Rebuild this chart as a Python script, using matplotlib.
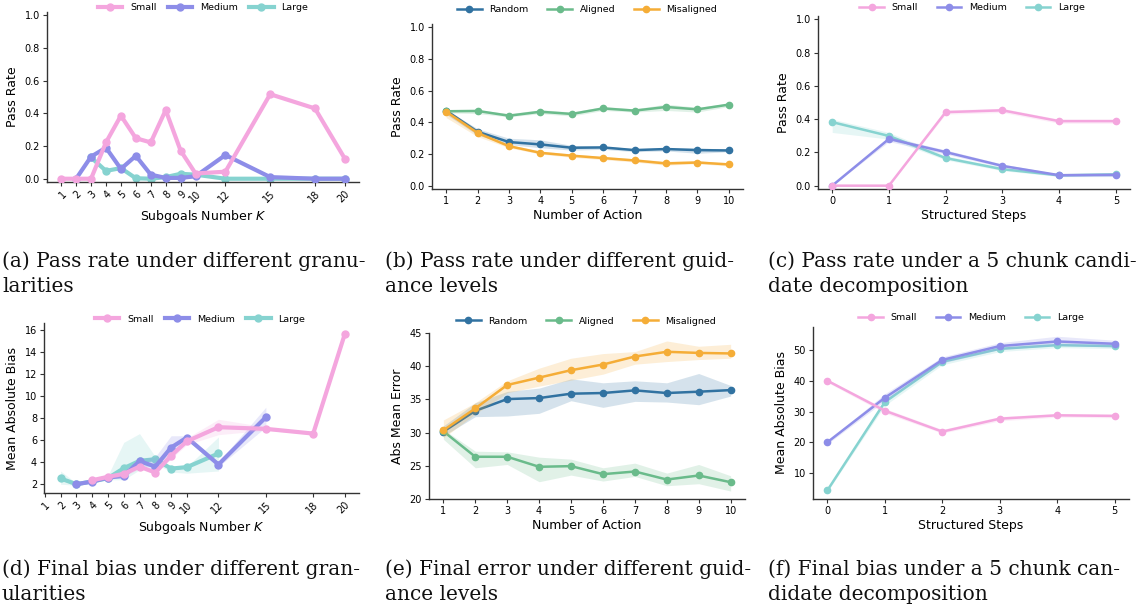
import numpy as np
import matplotlib
matplotlib.use("Agg")
import matplotlib.pyplot as plt

# colours
c_small = "#f4a6de"
c_medium = "#8d8de8"
c_large = "#86d3d0"
c_random = "#3172a1"
c_aligned = "#6abb8b"
c_misaligned = "#f5ad37"

# ---- (a) pass rate vs subgoals number K
k_ticks = [1, 2, 3, 4, 5, 6, 7, 8, 9, 10, 12, 15, 18, 20]
a_small = [0, 0, 0, 0.222, 0.386, 0.248, 0.222, 0.42, 0.172, 0.032, 0.043, 0.517, 0.43, 0.123]
a_medium_k = [2, 3, 4, 5, 6, 7, 8, 9, 10, 12, 15, 18, 20]
a_medium = [0, 0.135, 0.19, 0.06, 0.14, 0.025, 0.005, 0.005, 0.015, 0.145, 0.01, 0.0, 0.0]
a_large_k = [3, 4, 5, 6, 7, 8, 9, 10, 12, 15, 18, 20]
a_large = [0.13, 0.048, 0.065, 0.003, 0.0, 0.01, 0.03, 0.025, 0.0, 0.0, 0.0, 0.0]

# ---- (b) pass rate vs number of action
actions = [1, 2, 3, 4, 5, 6, 7, 8, 9, 10]
b_random = [0.474, 0.341, 0.276, 0.261, 0.24, 0.242, 0.225, 0.232, 0.225, 0.223]
b_random_lo = [0.45, 0.32, 0.26, 0.24, 0.225, 0.23, 0.215, 0.22, 0.205, 0.215]
b_random_hi = [0.48, 0.36, 0.30, 0.29, 0.255, 0.25, 0.235, 0.24, 0.24, 0.23]
b_aligned = [0.47, 0.472, 0.442, 0.467, 0.453, 0.488, 0.474, 0.497, 0.482, 0.512]
b_aligned_lo = [0.46, 0.455, 0.435, 0.455, 0.44, 0.475, 0.465, 0.475, 0.465, 0.50]
b_aligned_hi = [0.48, 0.48, 0.455, 0.48, 0.465, 0.50, 0.485, 0.515, 0.495, 0.52]
b_mis = [0.467, 0.333, 0.25, 0.208, 0.19, 0.175, 0.16, 0.141, 0.147, 0.135]
b_mis_lo = [0.43, 0.31, 0.24, 0.20, 0.18, 0.165, 0.15, 0.13, 0.14, 0.125]
b_mis_hi = [0.48, 0.35, 0.26, 0.22, 0.20, 0.185, 0.17, 0.155, 0.16, 0.14]

# ---- (c) pass rate vs structured steps
steps = [0, 1, 2, 3, 4, 5]
c_small_v = [0, 0, 0.442, 0.453, 0.388, 0.388]
c_small_lo = [0, 0, 0.43, 0.44, 0.375, 0.375]
c_small_hi = [0, 0, 0.455, 0.465, 0.40, 0.40]
c_medium_v = [0, 0.281, 0.202, 0.119, 0.063, 0.065]
c_medium_lo = [0, 0.265, 0.19, 0.11, 0.055, 0.055]
c_medium_hi = [0, 0.295, 0.215, 0.13, 0.07, 0.075]
c_large_v = [0.382, 0.299, 0.166, 0.099, 0.062, 0.068]
c_large_lo = [0.32, 0.28, 0.155, 0.09, 0.055, 0.055]
c_large_hi = [0.40, 0.32, 0.18, 0.11, 0.07, 0.08]

# ---- (d) bias vs subgoals number K
d_small_k = [4, 5, 6, 7, 8, 9, 10, 12, 15, 18, 20]
d_small = [2.36, 2.67, 2.94, 3.6, 3.06, 4.6, 5.9, 7.18, 7.03, 6.6, 15.64]
d_small_lo = [2.2, 2.5, 2.7, 3.4, 2.9, 4.3, 5.6, 6.5, 6.9, 6.5, 15.5]
d_small_hi = [2.5, 2.8, 3.1, 3.8, 3.2, 4.9, 6.2, 7.9, 7.2, 6.7, 15.8]
d_medium_k = [3, 4, 5, 6, 7, 8, 9, 10, 12, 15]
d_medium = [2.0, 2.24, 2.6, 2.76, 4.09, 3.6, 5.33, 6.24, 3.79, 8.09]
d_medium_lo = [1.9, 2.15, 2.5, 2.55, 3.8, 3.3, 4.3, 6.0, 3.6, 7.2]
d_medium_hi = [2.1, 2.35, 2.7, 2.9, 4.3, 4.5, 6.4, 6.4, 4.0, 9.0]
d_large_k = [2, 3, 4, 5, 6, 7, 8, 9, 10, 12]
d_large = [2.52, 2.0, 2.25, 2.55, 3.45, 4.12, 4.27, 3.42, 3.55, 4.79]
d_large_lo = [2.0, 1.9, 2.1, 2.4, 2.4, 3.3, 3.9, 3.1, 3.0, 3.2]
d_large_hi = [3.2, 2.1, 2.4, 2.8, 5.8, 6.6, 4.5, 3.6, 3.6, 6.3]

# ---- (e) error vs number of action
e_random = [30.15, 33.28, 35.05, 35.2, 35.86, 35.96, 36.36, 35.96, 36.16, 36.4]
e_random_lo = [29.5, 32.4, 32.5, 32.9, 34.8, 33.8, 34.7, 34.6, 34.2, 35.5]
e_random_hi = [31.0, 34.5, 36.2, 36.7, 38.1, 37.5, 37.8, 37.5, 38.9, 37.1]
e_aligned = [30.2, 26.36, 26.36, 24.85, 24.95, 23.74, 24.14, 22.93, 23.54, 22.53]
e_aligned_lo = [29.0, 24.7, 25.2, 22.6, 23.6, 22.7, 23.4, 22.0, 22.3, 21.2]
e_aligned_hi = [30.5, 27.2, 27.1, 26.3, 26.0, 24.7, 25.4, 23.9, 25.2, 23.5]
e_mis = [30.35, 33.64, 37.17, 38.28, 39.4, 40.25, 41.46, 42.17, 42.0, 41.92]
e_mis_lo = [29.2, 32.8, 36.0, 37.0, 37.9, 38.8, 40.3, 40.7, 41.0, 41.2]
e_mis_hi = [31.9, 34.5, 37.8, 39.7, 41.2, 41.9, 42.2, 43.8, 43.0, 43.3]

# ---- (f) bias vs structured steps
f_small = [40.05, 30.3, 23.5, 27.7, 28.8, 28.6]
f_small_lo = [39.5, 29.5, 23.0, 27.0, 28.2, 28.0]
f_small_hi = [40.5, 31.0, 24.2, 28.4, 29.4, 29.2]
f_medium = [20.05, 34.5, 46.8, 51.3, 52.8, 52.05]
f_medium_lo = [19.5, 33.5, 45.8, 50.2, 51.5, 51.0]
f_medium_hi = [20.5, 35.8, 47.8, 52.4, 54.5, 53.2]
f_large = [4.4, 33.1, 46.2, 50.4, 51.6, 51.3]
f_large_lo = [4.0, 32.0, 45.2, 49.5, 50.8, 50.5]
f_large_hi = [4.8, 34.2, 47.2, 51.2, 52.5, 52.2]

captions = ["(a) Pass rate under different granu-\nlarities",
            "(b) Pass rate under different guid-\nance levels",
            "(c) Pass rate under a 5 chunk candi-\ndate decomposition",
            "(d) Final bias under different gran-\nularities",
            "(e) Final error under different guid-\nance levels",
            "(f) Final bias under a 5 chunk can-\ndidate decomposition"]

W, H = 1145, 611
fig = plt.figure(figsize=(W / 100, H / 100), dpi=100)


def add_ax(l, t, r, b):
    # pixel box -> figure fraction
    ax = fig.add_axes([l / W, 1 - b / H, (r - l) / W, (b - t) / H])
    for s in ["top", "right"]:
        ax.spines[s].set_visible(False)
    for s in ["left", "bottom"]:
        ax.spines[s].set_color("#333333")
        ax.spines[s].set_linewidth(1.0)
    ax.tick_params(labelsize=7, length=3, width=0.8, color="#333333", pad=2)
    return ax


def series(ax, x, y, color, label, lw, ms, lo=None, hi=None, z=2):
    if lo is not None:
        ax.fill_between(x, lo, hi, color=color, alpha=0.2, linewidth=0, zorder=z)
    line, = ax.plot(x, y, color=color, lw=lw, marker="o", ms=ms, label=label, zorder=z)
    return line


def legend(ax, handles, cx, cy, colsp=2.0):
    ax.legend(handles=handles, loc="center", bbox_to_anchor=(cx / W, 1 - cy / H),
              bbox_transform=fig.transFigure, ncol=3, frameon=False, fontsize=6.8,
              handlelength=2.6, handletextpad=0.8, columnspacing=colsp, borderpad=0)


# (a)
ax = add_ax(47, 12, 359, 182)
hl = series(ax, a_large_k, a_large, c_large, "Large", 3.0, 5, z=2)
hm = series(ax, a_medium_k, a_medium, c_medium, "Medium", 3.0, 5, z=3)
hs = series(ax, k_ticks, a_small, c_small, "Small", 3.0, 5, z=4)
ax.set_xlim(0.05, 20.95)
ax.set_ylim(-0.02, 1.02)
ax.set_xticks(k_ticks)
ax.set_xticklabels(k_ticks, rotation=45, ha="right", rotation_mode="anchor")
ax.set_yticks(np.arange(0, 1.01, 0.2))
ax.set_xlabel("Subgoals Number $K$", fontsize=9, labelpad=2)
ax.set_ylabel("Pass Rate", fontsize=9)
legend(ax, [hs, hm, hl], 203, 8, colsp=1.2)

# (b)
ax = add_ax(432, 24, 743, 189)
h1 = series(ax, actions, b_random, c_random, "Random", 1.8, 4.5, b_random_lo, b_random_hi)
h2 = series(ax, actions, b_aligned, c_aligned, "Aligned", 1.8, 4.5, b_aligned_lo, b_aligned_hi)
h3 = series(ax, actions, b_mis, c_misaligned, "Misaligned", 1.8, 4.5, b_mis_lo, b_mis_hi)
ax.set_ylim(-0.02, 1.02)
ax.set_xticks(actions)
ax.set_yticks(np.arange(0, 1.01, 0.2))
ax.set_xlabel("Number of Action", fontsize=9, labelpad=2)
ax.set_ylabel("Pass Rate", fontsize=9)
legend(ax, [h1, h2, h3], 587, 10)

# (c)
ax = add_ax(818, 16, 1130, 189)
hl = series(ax, steps, c_large_v, c_large, "Large", 1.8, 4.5, c_large_lo, c_large_hi, z=2)
hm = series(ax, steps, c_medium_v, c_medium, "Medium", 1.8, 4.5, c_medium_lo, c_medium_hi, z=3)
hs = series(ax, steps, c_small_v, c_small, "Small", 1.8, 4.5, c_small_lo, c_small_hi, z=4)
ax.set_ylim(-0.02, 1.02)
ax.set_xticks(steps)
ax.set_yticks(np.arange(0, 1.01, 0.2))
ax.set_xlabel("Structured Steps", fontsize=9, labelpad=2)
ax.set_ylabel("Pass Rate", fontsize=9)
legend(ax, [hs, hm, hl], 972, 8)

# (d)
ax = add_ax(44, 323, 359, 493)
hl = series(ax, d_large_k, d_large, c_large, "Large", 3.0, 5, d_large_lo, d_large_hi, z=2)
hm = series(ax, d_medium_k, d_medium, c_medium, "Medium", 3.0, 5, d_medium_lo, d_medium_hi, z=3)
hs = series(ax, d_small_k, d_small, c_small, "Small", 3.0, 5, d_small_lo, d_small_hi, z=4)
ax.set_xlim(0.95, 20.9)
ax.set_ylim(1.2, 16.65)
ax.set_xticks(k_ticks)
ax.set_xticklabels(k_ticks, rotation=45, ha="right", rotation_mode="anchor")
ax.set_yticks(np.arange(2, 17, 2))
ax.set_xlabel("Subgoals Number $K$", fontsize=9, labelpad=2)
ax.set_ylabel("Mean Absolute Bias", fontsize=9)
legend(ax, [hs, hm, hl], 200, 319, colsp=1.2)

# (e)
ax = add_ax(429, 333, 745, 499)
h1 = series(ax, actions, e_random, c_random, "Random", 1.8, 4.5, e_random_lo, e_random_hi)
h2 = series(ax, actions, e_aligned, c_aligned, "Aligned", 1.8, 4.5, e_aligned_lo, e_aligned_hi)
h3 = series(ax, actions, e_mis, c_misaligned, "Misaligned", 1.8, 4.5, e_mis_lo, e_mis_hi)
ax.set_ylim(20, 45)
ax.set_xticks(actions)
ax.set_yticks(np.arange(20, 46, 5))
ax.set_xlabel("Number of Action", fontsize=9, labelpad=2)
ax.set_ylabel("Abs Mean Error", fontsize=9)
legend(ax, [h1, h2, h3], 586, 321)

# (f)
ax = add_ax(813, 327, 1129, 499)
hl = series(ax, steps, f_large, c_large, "Large", 1.8, 4.5, f_large_lo, f_large_hi, z=2)
hm = series(ax, steps, f_medium, c_medium, "Medium", 1.8, 4.5, f_medium_lo, f_medium_hi, z=3)
hs = series(ax, steps, f_small, c_small, "Small", 1.8, 4.5, f_small_lo, f_small_hi, z=4)
ax.set_ylim(1.6, 57.5)
ax.set_xticks(steps)
ax.set_yticks(np.arange(10, 51, 10))
ax.set_xlabel("Structured Steps", fontsize=9, labelpad=2)
ax.set_ylabel("Mean Absolute Bias", fontsize=9)
legend(ax, [hs, hm, hl], 971, 318)

# captions, two lines each; y is the baseline of the second line
cap_x = [2, 385, 768, 2, 385, 768]
cap_y = [292, 292, 292, 600, 600, 600]
for txt, x, y in zip(captions, cap_x, cap_y):
    fig.text(x / W, 1 - y / H, txt, ha="left", va="baseline", fontsize=14.5,
             family="DejaVu Serif", linespacing=1.42, color="#111111")

fig.savefig("out.png", dpi=100)
